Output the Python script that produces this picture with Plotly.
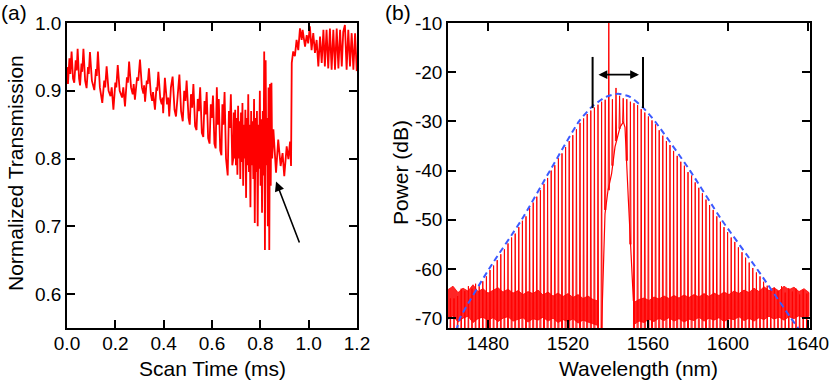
import plotly.graph_objects as go

# ---- panel (a): transmission while the pump is scanned ----
scan_time_ms = [
    0.000, 0.004, 0.010, 0.014, 0.019, 0.025, 0.030, 0.036, 0.040, 0.044,
    0.050, 0.054, 0.060, 0.063, 0.068, 0.075, 0.081, 0.087, 0.090, 0.095,
    0.103, 0.113, 0.120, 0.123, 0.128, 0.136, 0.146, 0.154, 0.158, 0.164,
    0.172, 0.180, 0.185, 0.192, 0.200, 0.204, 0.210, 0.218, 0.228, 0.233,
    0.240, 0.248, 0.252, 0.257, 0.265, 0.272, 0.276, 0.281, 0.290, 0.295,
    0.302, 0.310, 0.316, 0.319, 0.323, 0.330, 0.334, 0.339, 0.347, 0.352,
    0.356, 0.364, 0.370, 0.373, 0.378, 0.386, 0.392, 0.395, 0.398,
    0.405, 0.414, 0.419, 0.423, 0.430, 0.437, 0.445, 0.451, 0.458, 0.465,
    0.472, 0.479, 0.485, 0.490, 0.495, 0.503, 0.508, 0.513, 0.518, 0.523,
    0.530, 0.536, 0.541, 0.546, 0.551, 0.558, 0.564, 0.569, 0.573, 0.578,
    0.584, 0.590, 0.595, 0.599, 0.604, 0.610, 0.615, 0.620, 0.624, 0.628,
    0.634, 0.639, 0.643, 0.647, 0.652, 0.658, 0.665, 0.670, 0.674, 0.678,
    0.684, 0.688,
    0.690, 0.693, 0.696, 0.699, 0.702, 0.705, 0.708, 0.711, 0.714, 0.717,
    0.720, 0.723, 0.726, 0.729, 0.732, 0.735, 0.738, 0.741, 0.744, 0.747,
    0.750, 0.753, 0.756, 0.759, 0.762, 0.765, 0.768, 0.771, 0.774, 0.777,
    0.780, 0.783, 0.786, 0.789, 0.792, 0.795, 0.798, 0.801, 0.804, 0.807,
    0.810, 0.813, 0.816, 0.819, 0.822, 0.825, 0.828, 0.831, 0.834, 0.837,
    0.840, 0.843, 0.846, 0.849,
    0.854, 0.865, 0.874, 0.884, 0.892, 0.899, 0.909, 0.916, 0.923, 0.927,
    0.930, 0.936, 0.943, 0.950, 0.957, 0.964, 0.971, 0.975, 0.985, 0.992,
    0.998, 1.005, 1.012, 1.019, 1.026, 1.033, 1.040, 1.047, 1.054, 1.061,
    1.067, 1.074, 1.081, 1.088, 1.095, 1.102, 1.109, 1.116, 1.123, 1.130,
    1.137, 1.143, 1.150, 1.157, 1.164, 1.171, 1.178, 1.185, 1.192, 1.199,
]
transmission = [
    0.935, 0.910, 0.948, 0.925, 0.958, 0.918, 0.912, 0.945, 0.930, 0.962,
    0.918, 0.908, 0.940, 0.928, 0.962, 0.915, 0.904, 0.935, 0.925, 0.957,
    0.915, 0.901, 0.932, 0.922, 0.958, 0.905, 0.882, 0.915, 0.905, 0.936,
    0.900, 0.892, 0.905, 0.872, 0.912, 0.905, 0.938, 0.900, 0.890, 0.905,
    0.877, 0.920, 0.912, 0.943, 0.905, 0.895, 0.910, 0.887, 0.920, 0.915,
    0.946, 0.905, 0.896, 0.908, 0.884, 0.915, 0.910, 0.933, 0.895, 0.885,
    0.898, 0.872, 0.905, 0.900, 0.928, 0.888, 0.880, 0.890, 0.867,
    0.919, 0.880, 0.890, 0.862, 0.905, 0.921, 0.872, 0.862, 0.900, 0.924,
    0.870, 0.855, 0.900, 0.885, 0.915, 0.860, 0.850, 0.895, 0.875, 0.910,
    0.848, 0.842, 0.888, 0.870, 0.905, 0.838, 0.832, 0.885, 0.865, 0.898,
    0.830, 0.822, 0.880, 0.860, 0.893, 0.822, 0.815, 0.905, 0.850, 0.888,
    0.812, 0.805, 0.880, 0.850, 0.898, 0.800, 0.775, 0.870, 0.845, 0.895,
    0.790, 0.800,
    0.868, 0.800, 0.872, 0.790, 0.860, 0.776, 0.878, 0.800, 0.855, 0.770,
    0.868, 0.795, 0.882, 0.760, 0.850, 0.800, 0.872, 0.742, 0.860, 0.790,
    0.895, 0.780, 0.850, 0.728, 0.870, 0.790, 0.855, 0.770, 0.888, 0.705,
    0.860, 0.780, 0.870, 0.700, 0.850, 0.785, 0.900, 0.760, 0.858, 0.720,
    0.870, 0.775, 0.958, 0.665, 0.945, 0.790, 0.860, 0.700, 0.905, 0.665,
    0.910, 0.760, 0.912, 0.800,
    0.843, 0.779, 0.828, 0.789, 0.808, 0.774, 0.818, 0.799, 0.825, 0.789,
    0.941, 0.958, 0.951, 0.975, 0.960, 0.992, 0.975, 0.990, 0.965, 0.982,
    0.970, 0.995, 0.960, 0.985, 0.956, 0.975, 0.936, 0.980, 0.941, 0.990,
    0.936, 0.990, 0.933, 0.992, 0.931, 0.990, 0.931, 0.992, 0.933, 0.990,
    0.936, 0.987, 0.997, 0.931, 0.990, 0.936, 0.985, 0.931, 0.985, 0.929,
]

# arrow pointing at the soliton step (tail -> head)
arrow_tail = (0.964, 0.674)
arrow_head = (0.865, 0.766)

# ---- panel (b): comb spectrum ----
comb_wl_nm = [
    1461.2, 1463.0, 1464.8, 1466.6, 1468.4, 1470.2, 1472.0, 1473.8, 1475.6, 1477.4,
    1479.2, 1481.0, 1482.8, 1484.6, 1486.4, 1488.2, 1490.0, 1491.8, 1493.6, 1495.4,
    1497.2, 1499.0, 1500.8, 1502.6, 1504.4, 1506.2, 1508.0, 1509.8, 1511.6, 1513.4,
    1515.2, 1517.0, 1518.8, 1520.6, 1522.4, 1524.2, 1526.0, 1527.8, 1529.6, 1531.4,
    1533.2, 1535.0, 1536.8, 1538.6, 1540.4, 1542.2, 1544.0, 1545.8, 1547.6, 1549.4,
    1551.2, 1553.0, 1554.8, 1556.6, 1558.4, 1560.2, 1562.0, 1563.8, 1565.6, 1567.4,
    1569.2, 1571.0, 1572.8, 1574.6, 1576.4, 1578.2, 1580.0, 1581.8, 1583.6, 1585.4,
    1587.2, 1589.0, 1590.8, 1592.6, 1594.4, 1596.2, 1598.0, 1599.8, 1601.6, 1603.4,
    1605.2, 1607.0, 1608.8, 1610.6, 1612.4, 1614.2, 1616.0, 1617.8, 1619.6, 1621.4,
    1623.2, 1625.0, 1626.8, 1628.6, 1630.4, 1632.2, 1634.0, 1635.8, 1637.6, 1639.4,
]
comb_peak_db = [
    -66.0, -66.0, -65.5, -64.0, -64.5, -63.5, -64.0, -63.0, -63.5, -62.5,
    -61.5, -60.2, -59.3, -58.2, -57.0, -56.0, -54.8, -53.6, -52.8, -51.5,
    -50.2, -49.3, -47.6, -46.5, -45.3, -44.0, -42.7, -41.5, -40.0, -38.9,
    -37.5, -36.5, -35.2, -34.0, -32.8, -31.6, -30.3, -29.4, -28.5, -27.8,
    -27.2, -26.6, -26.0, -25.6, -9.0, -25.5, -23.2, -24.8, -25.3, -25.5,
    -26.0, -26.3, -26.7, -27.5, -28.2, -29.0, -29.8, -30.6, -31.8, -32.9,
    -34.0, -34.8, -36.0, -37.0, -38.2, -39.0, -40.3, -41.0, -42.4, -43.5,
    -44.6, -45.9, -47.0, -48.0, -49.3, -50.4, -51.5, -52.5, -53.6, -54.5,
    -55.6, -56.6, -57.7, -58.7, -59.8, -60.7, -61.5, -62.6, -63.4, -64.2,
    -63.8, -64.5, -63.5, -64.8, -63.9, -64.6, -64.0, -65.2, -64.3, -65.0,
]
# level each line drops back to (off-scale except on the central hump)
comb_base_db = [-78.0] * 43 + [-48.0, -44.0, -39.0, -34.0, -31.5, -30.2, -38.0, -55.0] + [-78.0] * 49

# broadband hump around the pump
hump_wl_nm = [1536.8, 1538.5, 1540.0, 1541.8, 1543.5, 1546.0, 1547.7, 1548.5, 1550.2, 1551.8, 1552.7]
hump_db = [-72.0, -48.8, -44.0, -40.6, -35.2, -31.2, -30.1, -31.2, -46.1, -59.7, -66.5]

# noise floor, upper and lower edges
floor_left_wl = [1460, 1462.5, 1465, 1467.5, 1470, 1472.5, 1475, 1477.5, 1480, 1482.5,
                 1485, 1487.5, 1490, 1492.5, 1495, 1497.5, 1500, 1502.5, 1505, 1507.5,
                 1510, 1512.5, 1515, 1517.5, 1520, 1522.5, 1525, 1527.5, 1530, 1532.5, 1535]
floor_left_hi = [-64.2, -63.5, -64.8, -63.9, -64.5, -63.2, -64.6, -64.0, -64.9, -64.3,
                 -63.8, -64.7, -64.1, -64.9, -64.4, -65.2, -64.6, -65.0, -64.3, -65.3,
                 -64.7, -65.5, -64.9, -65.6, -65.0, -65.8, -65.2, -66.0, -65.5, -66.2, -66.5]
floor_left_lo = [-70.2, -69.5, -70.8, -70.0, -69.6, -70.9, -70.1, -69.8, -70.5, -69.9,
                 -70.7, -70.0, -69.7, -70.6, -70.2, -69.9, -70.8, -70.1, -70.4, -69.8,
                 -70.6, -70.0, -70.9, -70.3, -70.7, -70.1, -71.0, -70.4, -70.8, -71.2, -71.5]
floor_right_wl = [1553, 1555.5, 1558, 1560.5, 1563, 1565.5, 1568, 1570.5, 1573, 1575.5,
                  1578, 1580.5, 1583, 1585.5, 1588, 1590.5, 1593, 1595.5, 1598, 1600.5,
                  1603, 1605.5, 1608, 1610.5, 1613, 1615.5, 1618, 1620.5, 1623, 1625.5,
                  1628, 1630.5, 1633, 1635.5, 1638, 1640.5]
floor_right_hi = [-66.8, -66.2, -65.9, -66.4, -65.7, -66.1, -65.5, -66.0, -65.4, -65.9,
                  -65.3, -65.8, -65.2, -65.7, -65.0, -65.6, -64.9, -65.4, -64.7, -65.2,
                  -64.5, -65.0, -64.3, -64.8, -63.9, -64.6, -63.6, -64.4, -63.8, -64.5,
                  -63.5, -64.2, -63.7, -64.6, -64.0, -64.8]
floor_right_lo = [-71.3, -70.6, -70.9, -70.2, -70.7, -70.0, -70.5, -69.9, -70.6, -70.1,
                  -70.8, -70.2, -70.5, -69.8, -70.6, -70.0, -70.4, -69.9, -70.7, -70.1,
                  -70.3, -69.7, -70.5, -70.0, -70.6, -69.9, -70.3, -69.6, -70.2, -69.8,
                  -70.4, -69.7, -70.1, -69.5, -70.0, -69.6]

# sech^2 envelope (dashed blue)
env_wl_nm = [1462.5, 1464.5, 1466, 1480.5, 1496.8, 1511, 1525.5, 1532, 1539, 1545,
             1551, 1557.5, 1563.5, 1581, 1596.8, 1614.5, 1631.5, 1635, 1637]
env_db = [-74.5, -72, -70, -60, -50, -40, -30, -27, -25, -24.4,
          -25, -27.2, -30, -40, -50, -60, -70, -72, -73.5]

# 3-dB bandwidth markers
fwhm_edges_nm = [1532.3, 1557.5]
fwhm_marker_db = (-16.9, -27.3)
fwhm_arrow = (1534.5, 1555.5, -20.5)

FONT = "Liberation Sans, Arial, sans-serif"
RED = "#ff0000"

fig = go.Figure()

fig.add_trace(go.Scatter(
    x=scan_time_ms, y=transmission, mode='lines',
    line=dict(color=RED, width=1.8), xaxis='x', yaxis='y', hoverinfo='skip'
))

# noise floor bands
for wl, hi, lo in [(floor_left_wl, floor_left_hi, floor_left_lo),
                   (floor_right_wl, floor_right_hi, floor_right_lo)]:
    fig.add_trace(go.Scatter(
        x=wl + wl[::-1], y=hi + lo[::-1], mode='lines', fill='toself',
        fillcolor='rgba(255,0,0,0.85)', line=dict(color=RED, width=0.8),
        xaxis='x2', yaxis='y2', hoverinfo='skip'
    ))

# comb lines
cx, cy = [], []
for wl, pk, base in zip(comb_wl_nm, comb_peak_db, comb_base_db):
    cx += [wl - 0.3, wl, wl + 0.3, None]
    cy += [base, pk, base, None]
fig.add_trace(go.Scatter(
    x=cx, y=cy, mode='lines', line=dict(color=RED, width=1),
    xaxis='x2', yaxis='y2', hoverinfo='skip'
))

fig.add_trace(go.Scatter(
    x=hump_wl_nm, y=hump_db, mode='lines', line=dict(color=RED, width=1.2),
    xaxis='x2', yaxis='y2', hoverinfo='skip'
))

fig.add_trace(go.Scatter(
    x=env_wl_nm, y=env_db, mode='lines',
    line=dict(color='rgb(60,90,255)', width=2, dash='6px,4px', shape='spline', smoothing=0.6),
    xaxis='x2', yaxis='y2', hoverinfo='skip'
))

axis_style = dict(
    showline=True, linecolor='black', linewidth=1.5, mirror='ticks',
    ticks='inside', ticklen=8, tickwidth=1.5, tickcolor='black',
    showgrid=False, zeroline=False, automargin=False,
    tickfont=dict(family=FONT, size=19, color='black'),
)

fig.update_layout(
    width=830, height=382,
    margin=dict(l=0, r=0, t=0, b=0, pad=0, autoexpand=False),
    paper_bgcolor='white', plot_bgcolor='white',
    showlegend=False,
    font=dict(family=FONT, color='black'),
    xaxis=dict(domain=[67 / 830, 357 / 830], range=[0, 1.2], anchor='y',
               tickvals=[0, 0.2, 0.4, 0.6, 0.8, 1.0, 1.2], ticklabelstandoff=-3,
               ticktext=['0.0', '0.2', '0.4', '0.6', '0.8', '1.0', '1.2'], **axis_style),
    yaxis=dict(domain=[1 - 328 / 382, 1 - 23 / 382], range=[0.55, 1.0], anchor='x',
               tickvals=[0.6, 0.7, 0.8, 0.9, 1.0],
               ticktext=['0.6', '0.7', '0.8', '0.9', '1.0'], **axis_style),
    xaxis2=dict(domain=[448 / 830, 810 / 830], range=[1460, 1641], anchor='y2',
                tickvals=[1480, 1520, 1560, 1600, 1640], ticklabelstandoff=-3,
                ticktext=['1480', '1520', '1560', '1600', '1640'], **axis_style),
    yaxis2=dict(domain=[1 - 328 / 382, 1 - 23 / 382], range=[-72, -10], anchor='x2',
                tickvals=[-10, -20, -30, -40, -50, -60, -70],
                ticktext=['-10', '-20', '-30', '-40', '-50', '-60', '-70'], **axis_style),
)

for x0 in fwhm_edges_nm:
    fig.add_shape(type='line', xref='x2', yref='y2', x0=x0, x1=x0,
                  y0=fwhm_marker_db[0], y1=fwhm_marker_db[1],
                  line=dict(color='black', width=2))

title_font = dict(family=FONT, size=21, color='black')
fig.add_annotation(x=arrow_head[0], y=arrow_head[1], ax=arrow_tail[0], ay=arrow_tail[1],
                   xref='x', yref='y', axref='x', ayref='y', text='', showarrow=True,
                   arrowhead=2, arrowsize=1.2, arrowwidth=1.6, arrowcolor='black', standoff=0)
fig.add_annotation(x=fwhm_arrow[1], y=fwhm_arrow[2], ax=fwhm_arrow[0], ay=fwhm_arrow[2],
                   xref='x2', yref='y2', axref='x2', ayref='y2', text='', showarrow=True,
                   arrowhead=2, arrowside='end+start', arrowsize=1.1, arrowwidth=1.6,
                   arrowcolor='black', standoff=0, startstandoff=0)

labels = [
    ('Scan Time (ms)', 212, 368, 0),
    ('Wavelength (nm)', 638, 368, 0),
    ('Normalized Transmission', 15, 173, -90),
    ('Power (dB)', 400, 173, -90),
    ('(a)', 14, 12, 0),
    ('(b)', 398, 12, 0),
]
for text, px, py, ang in labels:
    fig.add_annotation(x=px / 830, y=1 - py / 382, xref='paper', yref='paper',
                       text=text, showarrow=False, textangle=ang, font=title_font,
                       xanchor='center', yanchor='middle')

# the page's default body margin would push the 830x382 figure out of the window
fig.write_html("out.html", config={'displayModeBar': False},
               post_script="document.body.style.margin='0';document.body.style.overflow='hidden';")
